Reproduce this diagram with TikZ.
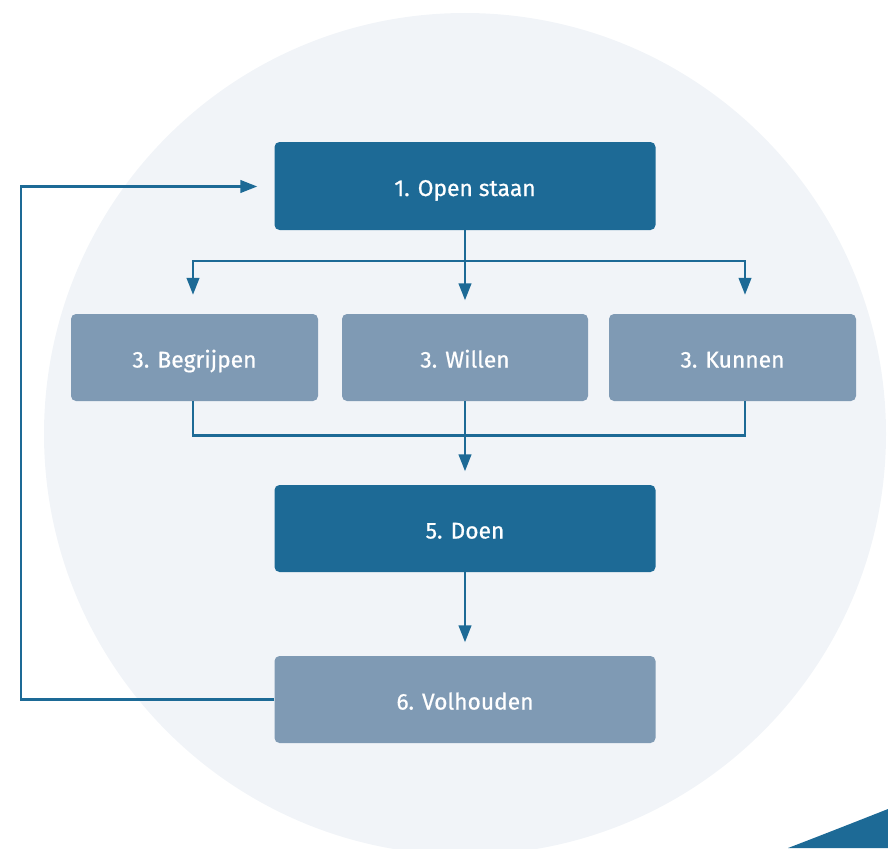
\documentclass[tikz,border=0pt]{standalone}
\usepackage{fontspec}
\setmainfont{Fira Sans}
\newfontfamily\boxfont{Fira Sans}[FakeBold=0.7]
\usetikzlibrary{arrows.meta}
\definecolor{dblue}{HTML}{1D6A96}
\definecolor{lblue}{HTML}{7F9AB4}
\definecolor{bgc}{HTML}{F1F4F8}
\begin{document}
\begin{tikzpicture}[x=1pt,y=-1pt,
  box/.style={rounded corners=5pt, inner sep=0pt, text=white,
    font=\boxfont\fontsize{22.8}{27}\selectfont, minimum height=88pt,
    text height=20.5pt, text depth=0.5pt},
  darkbox/.style={box, fill=dblue},
  lightbox/.style={box, fill=lblue},
  conn/.style={draw=dblue, line width=2.6pt},
  arr/.style={conn, -{Triangle[length=17pt,width=12.5pt]}}]
\clip (0,0) rectangle (888,848);
\fill[bgc] (465,434) circle (421pt);
\fill[dblue] (788,848) .. controls (822,835) and (855,822) .. (888,809) -- (888,848) -- cycle;

\node[darkbox, minimum width=381pt] (open) at (465,186) {1. Open staan};
\node[lightbox, minimum width=247pt, minimum height=87pt] (begr) at (194.5,357.5) {3. Begrijpen};
\node[lightbox, minimum width=246pt, minimum height=87pt] (will) at (465,357.5) {3. Willen};
\node[lightbox, minimum width=247pt, minimum height=87pt] (kunn) at (732.5,357.5) {3. Kunnen};
\node[darkbox, minimum width=381pt, minimum height=87pt] (doen) at (465,528.5) {5. Doen};
\node[lightbox, minimum width=381pt, minimum height=87pt] (volh) at (465,699.5) {6. Volhouden};

\coordinate (split) at (465,261);
\path (begr.north) ++(-1.5,-19) coordinate (btip);
\path (will.north) ++(0,-13.5) coordinate (wtip);
\path (kunn.north) ++(12.5,-19) coordinate (ktip);
\draw[conn] (open.south) -- (split);
\draw[arr] (split) -- (wtip);
\draw[arr] (split) -| (btip);
\draw[arr] (split) -| (ktip);

\path (begr.south) ++(-1.5,0) coordinate (bs);
\path (kunn.south) ++(12.5,0) coordinate (ks);
\coordinate (merge) at (465,435.5);
\draw[conn] (bs) |- (merge) -| (ks);
\path (doen.north) ++(0,-13.5) coordinate (dtip);
\draw[arr] (will.south) -- (dtip);

\path (volh.north) ++(0,-13.5) coordinate (vtip);
\draw[arr] (doen.south) -- (vtip);

\coordinate (corner) at (21,186.5);
\path (open.west) ++(-17,0.5) coordinate (otip);
\draw[arr] (volh.west) -| (corner) -- (otip);
\end{tikzpicture}
\end{document}
